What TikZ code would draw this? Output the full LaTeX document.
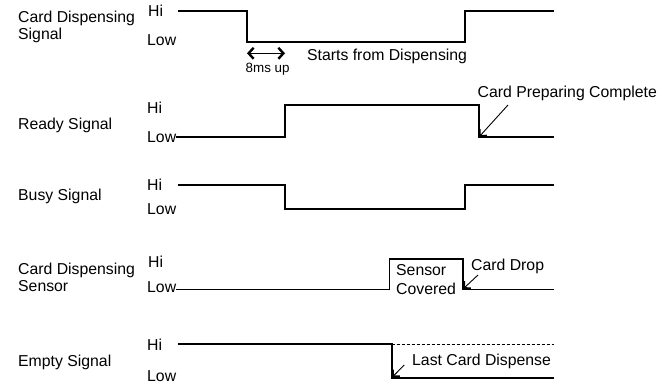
\documentclass[tikz,border=0pt]{standalone}
\usepackage{fontspec}
\setmainfont{Liberation Sans}
\usetikzlibrary{arrows.meta}

\tikzset{
	sig/.style={line width=1.6pt, line join=miter},
	lbl/.style={anchor=base west, inner sep=0pt, align=left, font=\fontsize{15.8}{16.7}\selectfont},
	lvl/.style={anchor=base west, inner sep=0pt, font=\fontsize{15.8}{16}\selectfont},
	note/.style={line width=0.9pt, -{Straight Barb[length=5pt, width=10pt, line width=2.2pt]}},
	dbl/.style={line width=1.4pt, {Straight Barb[length=5pt, width=11pt, line width=2.4pt]}-{Straight Barb[length=5pt, width=11pt, line width=2.4pt]}},
}

\begin{document}
\begin{tikzpicture}[x=1pt, y=-1pt]
	\useasboundingbox (0,0) rectangle (672,385);

	% card dispensing signal
	\node (cds) [lbl] at (18, 39.3) {Card Dispensing\\Signal};
	\node (cds-hi) [lvl] at (148, 17) {Hi};
	\node (cds-lo) [lvl] at (147, 45.7) {Low};
	\draw[sig] (178, 11) -- (247, 11) -- (247, 42.3) -- (465, 42.3) -- (465, 11) -- (554, 11);
	\coordinate (ms-a) at (247, 53.3);
	\coordinate (ms-b) at (285, 53.3);
	\draw[dbl] (ms-a) -- (ms-b);
	\node (ms) [lbl, font=\fontsize{13.4}{14}\selectfont] at (245.5, 72.7) {8ms up};
	\node (start) [lbl] at (307, 60.7) {Starts from Dispensing};

	% ready signal
	\node (rdy) [lbl] at (18, 130) {Ready Signal};
	\node (rdy-hi) [lvl] at (147, 113.3) {Hi};
	\node (rdy-lo) [lvl] at (147, 142.7) {Low};
	\coordinate (rdy-fall) at (478.7, 137.3);
	\draw[sig] (rdy-lo.east |- rdy-fall) -- (285, 137.3) -- (285, 105) -- (478.7, 105) -- (rdy-fall) -- (554, 137.3);
	\node (cpc) [lbl] at (477.5, 97.7) {Card Preparing Complete};
	\coordinate (cpc-tail) at (508, 105);
	\draw[note] (cpc-tail) -- (rdy-fall);

	% busy signal
	\node (busy) [lbl] at (18, 200.7) {Busy Signal};
	\node (busy-hi) [lvl] at (147, 190) {Hi};
	\node (busy-lo) [lvl] at (147, 214) {Low};
	\draw[sig] (178, 185) -- (285, 185) -- (285, 209) -- (464.7, 209) -- (464.7, 185) -- (554, 185);

	% card dispensing sensor
	\node (sens) [lbl] at (18, 291) {Card Dispensing\\Sensor};
	\node (sens-hi) [lvl] at (148, 267.3) {Hi};
	\node (sens-lo) [lvl] at (147, 292.7) {Low};
	\coordinate (sens-fall) at (462.7, 289.3);
	\draw[sig] (sens-lo.east |- sens-fall) -- (389.3, 289.3) -- (389.3, 259) -- (462.7, 259) -- (sens-fall) -- (554, 289.3);
	\node (cov) [lbl, font=\fontsize{15.8}{19.3}\selectfont] at (396, 294.3) {Sensor\\Covered};
	\node (drop) [lbl] at (471, 270.7) {Card Drop};
	\coordinate (drop-tail) at (478, 275);
	\draw[note] (drop-tail) -- (sens-fall);

	% empty signal
	\node (emp) [lbl] at (18, 366) {Empty Signal};
	\node (emp-hi) [lvl] at (147, 350) {Hi};
	\node (emp-lo) [lvl] at (147, 381.7) {Low};
	\coordinate (emp-fall) at (391.7, 377.7);
	\draw[sig] (178, 344) -- (391.7, 344) -- (emp-fall) -- (554, 377.7);
	\draw[line width=1pt, dash pattern=on 3pt off 2pt] (391.7, 344) -- (554, 344);
	\node (last) [lbl] at (412, 365) {Last Card Dispense};
	\coordinate (last-tail) at (404.3, 365);
	\draw[note] (last-tail) -- (emp-fall);

\end{tikzpicture}
\end{document}
